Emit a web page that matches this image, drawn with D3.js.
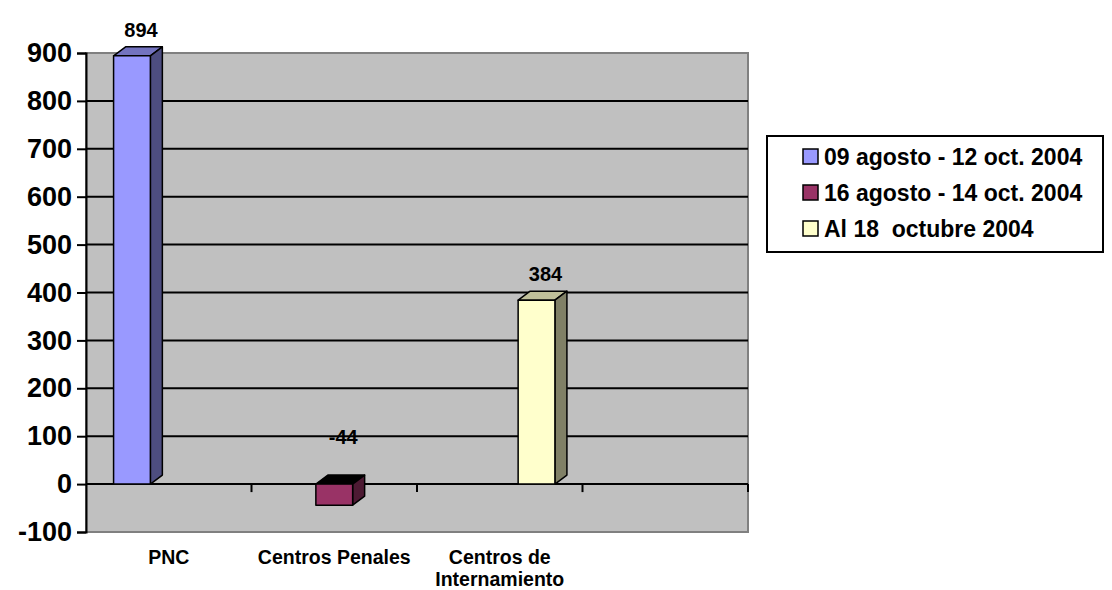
<!DOCTYPE html>
<html>
<head>
<meta charset="utf-8">
<script src="https://d3js.org/d3.v7.min.js"></script>
<style>
  body { margin: 0; background: #fff; }
  text { font-family: Arial, "Liberation Sans", sans-serif; font-weight: bold; fill: #000; }
</style>
</head>
<body>
<div id="chart"></div>
<script>
// DATA
var categories = ["PNC", "Centros Penales", "Centros de Internamiento", ""];
var seriesNames = ["09 agosto - 12 oct. 2004", "16 agosto - 14 oct. 2004", "Al 18  octubre 2004"];
var serie1 = [894, null, null, null];
var serie2 = [null, -44, null, null];
var serie3 = [null, null, 384, null];
var yTicks = [-100, 0, 100, 200, 300, 400, 500, 600, 700, 800, 900];

// COLORS (front, side, top)
var colors = [
  { front: "#9999FF", side: "#4D4D80", top: "#7373BF" },
  { front: "#993366", side: "#4D1A33", top: "#000000" },
  { front: "#FFFFCC", side: "#808066", top: "#BFBF99" }
];

var WIDTH = 1112, HEIGHT = 590;
var DX = 12, DY = 9;   // 3d depth offset
var plot = { left: 86, right: 748, top: 53, bottom: 532 };

var svg = d3.select("#chart").append("svg")
    .attr("width", WIDTH)
    .attr("height", HEIGHT);

var y = d3.scaleLinear()
    .domain([-100, 900])
    .range([plot.bottom, plot.top]);

var x = d3.scaleBand()
    .domain(categories.map(function(d, i) { return i; }))
    .range([plot.left, plot.right])
    .paddingInner(0)
    .paddingOuter(0);

// cluster of 3 bars, gap width 150%
var slot = x.bandwidth();
var barW = slot / (3 + 1.5);
var xs = d3.scaleBand()
    .domain([0, 1, 2])
    .range([barW * 0.75, barW * 0.75 + barW * 3]);

// plot area
svg.append("rect")
    .attr("x", plot.left)
    .attr("y", plot.top)
    .attr("width", plot.right - plot.left)
    .attr("height", plot.bottom - plot.top)
    .attr("fill", "#C0C0C0")
    .attr("stroke", "#808080")
    .attr("stroke-width", 2);

// gridlines
svg.append("g")
  .selectAll("line")
  .data(yTicks.filter(function(t) { return t > -100 && t < 900; }))
  .enter().append("line")
    .attr("x1", plot.left)
    .attr("x2", plot.right)
    .attr("y1", function(d) { return y(d); })
    .attr("y2", function(d) { return y(d); })
    .attr("stroke", "#000")
    .attr("stroke-width", 2);

// y axis
var yAxis = svg.append("g")
    .attr("transform", "translate(" + plot.left + ",0)")
    .call(d3.axisLeft(y)
      .tickValues(yTicks)
      .tickFormat(function(d) { return String(d); })
      .tickSize(9)
      .tickPadding(5));
yAxis.select(".domain").attr("stroke", "#000").attr("stroke-width", 2);
yAxis.selectAll(".tick line").attr("stroke", "#000").attr("stroke-width", 2);
yAxis.selectAll(".tick text")
    .attr("font-size", "27px")
    .attr("font-family", "Arial, 'Liberation Sans', sans-serif")
    .attr("font-weight", "bold")
    .attr("fill", "#000");

// x axis ticks at category boundaries, on the zero line
svg.append("g")
  .selectAll("line")
  .data(categories.map(function(d, i) { return i; }))
  .enter().append("line")
    .attr("x1", function(i) { return x(i) + slot; })
    .attr("x2", function(i) { return x(i) + slot; })
    .attr("y1", y(0))
    .attr("y2", y(0) + 8)
    .attr("stroke", "#000")
    .attr("stroke-width", 2);

// bars
var series = [serie1, serie2, serie3];
var bars = [];
series.forEach(function(values, s) {
  values.forEach(function(v, i) {
    if (v === null) return;
    bars.push({ s: s, i: i, v: v });
  });
});

var barG = svg.append("g")
    .attr("stroke", "#000")
    .attr("stroke-width", 1.5)
    .attr("stroke-linejoin", "round");

bars.forEach(function(b) {
  var x0 = x(b.i) + xs(b.s);
  var x1 = x0 + xs.bandwidth();
  var yTop = y(Math.max(b.v, 0));
  var yBot = y(Math.min(b.v, 0));
  var c = colors[b.s];

  barG.append("polygon")
      .attr("points", [[x0, yTop], [x0 + DX, yTop - DY], [x1 + DX, yTop - DY], [x1, yTop]].join(" "))
      .attr("fill", c.top);
  barG.append("polygon")
      .attr("points", [[x1, yTop], [x1 + DX, yTop - DY], [x1 + DX, yBot - DY], [x1, yBot]].join(" "))
      .attr("fill", c.side);
  barG.append("rect")
      .attr("x", x0)
      .attr("y", yTop)
      .attr("width", x1 - x0)
      .attr("height", yBot - yTop)
      .attr("fill", c.front);

  svg.append("text")
      .attr("x", (x0 + x1) / 2 + DX * 0.75)
      .attr("y", y(Math.abs(b.v)) - 19)
      .attr("text-anchor", "middle")
      .attr("font-size", "20px")
      .text(String(b.v));
});

// category labels
var catText = svg.append("g")
  .selectAll("text")
  .data(categories)
  .enter().append("text")
    .attr("x", function(d, i) { return x(i) + slot / 2; })
    .attr("y", 564)
    .attr("text-anchor", "middle")
    .attr("font-size", "19.5px");

catText.each(function(d) {
  var el = d3.select(this);
  var words = d.split(" ");
  var line = [];
  var tspan = el.append("tspan").attr("x", el.attr("x"));
  words.forEach(function(w) {
    line.push(w);
    tspan.text(line.join(" "));
    if (tspan.node().getComputedTextLength() > slot - 4 && line.length > 1) {
      line.pop();
      tspan.text(line.join(" "));
      line = [w];
      tspan = el.append("tspan")
          .attr("x", el.attr("x"))
          .attr("dy", 22)
          .text(w);
    }
  });
});

// legend
var legend = svg.append("g");
legend.append("rect")
    .attr("x", 767)
    .attr("y", 136)
    .attr("width", 336)
    .attr("height", 116)
    .attr("fill", "#fff")
    .attr("stroke", "#000")
    .attr("stroke-width", 2);

var legendRow = legend.selectAll("g.row")
    .data(seriesNames)
    .enter().append("g")
      .attr("class", "row")
      .attr("transform", function(d, i) { return "translate(0," + (157 + i * 36) + ")"; });

legendRow.append("rect")
    .attr("x", 803)
    .attr("y", -8)
    .attr("width", 15)
    .attr("height", 15)
    .attr("fill", function(d, i) { return colors[i].front; })
    .attr("stroke", "#000")
    .attr("stroke-width", 1.5);

legendRow.append("text")
    .attr("x", 824)
    .attr("y", 0)
    .attr("dy", "0.35em")
    .attr("font-size", "23px")
    .style("white-space", "pre")
    .text(function(d) { return d; });
</script>
</body>
</html>
